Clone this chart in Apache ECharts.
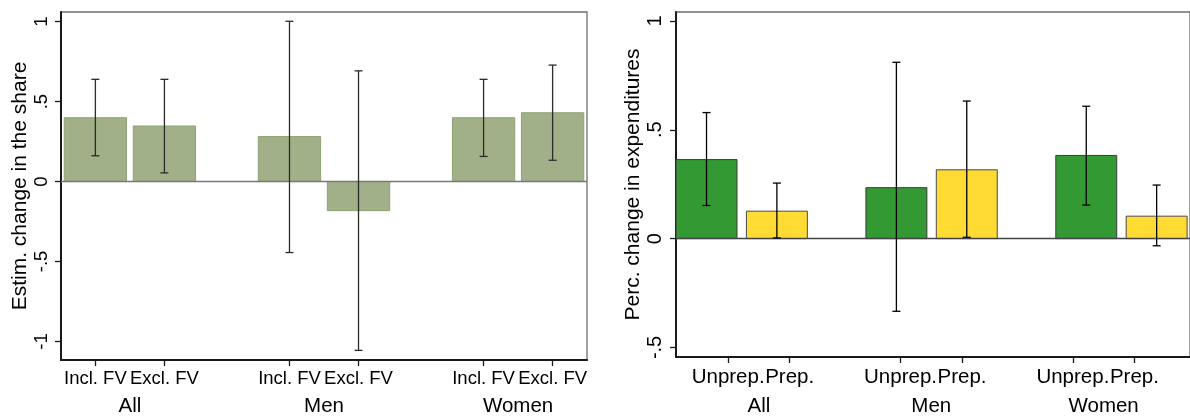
<!DOCTYPE html>
<html>
<head>
<meta charset="utf-8">
<script src="https://cdn.jsdelivr.net/npm/echarts@6/dist/echarts.min.js"></script>
<style>
  html, body { margin: 0; padding: 0; background: #fff; }
  #chart { width: 1190px; height: 417px; }
</style>
</head>
<body>
<div id="chart"></div>
<script>
	// categories
	const GROUPS = ["All", "Men", "Women"];
	const SHARE_LABELS = ["Incl. FV", "Excl. FV"];
	const EXP_LABELS = ["Unprep.", "Prep."];

	// left panel: estimated change in the share (point, lower, upper)
	const shareIncl = [0.399, 0.281, 0.399];
	const shareInclLow = [0.161, -0.444, 0.157];
	const shareInclHigh = [0.639, 1.002, 0.639];
	const shareExcl = [0.347, -0.182, 0.430];
	const shareExclLow = [0.054, -1.056, 0.133];
	const shareExclHigh = [0.639, 0.692, 0.728];

	// right panel: percentage change in expenditures
	const expUnprep = [0.363, 0.234, 0.382];
	const expUnprepLow = [0.152, -0.334, 0.154];
	const expUnprepHigh = [0.579, 0.810, 0.608];
	const expPrep = [0.126, 0.316, 0.103];
	const expPrepLow = [0.003, 0.006, -0.033];
	const expPrepHigh = [0.255, 0.632, 0.246];

	// tick labels
	const yTicksShare = [-1, -0.5, 0, 0.5, 1];
	const yTicksExp = [-0.5, 0, 0.5, 1];

	const FONT = "'Liberation Sans', Arial, Helvetica, sans-serif";

	// layout, in group units (group centres are 0, 1, 2)
	const LEFT_STEP = 0.3557;
	const RIGHT_BAR_STEP = 0.3706;
	const RIGHT_TICK_STEP = 0.357;
	const BAR_W = 0.321;

	function pos(g, j, step) {
		return g + (j - 0.5) * step;
	}

	function stataNum(v) {
		if (v === 0) return "0";
		return String(v).replace("0.", ".");
	}

	function barData(values, j, step) {
		return values.map((v, g) => [pos(g, j, step), v]);
	}

	function errData(low, high, j, step) {
		return low.map((lo, g) => [pos(g, j, step), lo, high[g]]);
	}

	function renderBar(params, api) {
		const x = api.value(0);
		const v = api.value(1);
		const p0 = api.coord([x - BAR_W / 2, 0]);
		const p1 = api.coord([x + BAR_W / 2, v]);
		return {
			type: "rect",
			shape: {
				x: p0[0],
				y: Math.min(p0[1], p1[1]),
				width: p1[0] - p0[0],
				height: Math.abs(p1[1] - p0[1]),
			},
			style: api.style(),
		};
	}

	function renderErr(params, api) {
		const x = api.value(0);
		const lo = api.coord([x, api.value(1)]);
		const hi = api.coord([x, api.value(2)]);
		const cap = 4;
		const style = { stroke: api.visual("color"), lineWidth: 1.3 };
		return {
			type: "group",
			children: [
				{ type: "line", shape: { x1: lo[0], y1: lo[1], x2: hi[0], y2: hi[1] }, style },
				{ type: "line", shape: { x1: lo[0] - cap, y1: lo[1], x2: lo[0] + cap, y2: lo[1] }, style },
				{ type: "line", shape: { x1: hi[0] - cap, y1: hi[1], x2: hi[0] + cap, y2: hi[1] }, style },
			],
		};
	}

	function barSeries(xi, yi, data, fill, border, zeroColor) {
		const s = {
			type: "custom",
			xAxisIndex: xi,
			yAxisIndex: yi,
			renderItem: renderBar,
			itemStyle: { color: fill, borderColor: border, borderWidth: 1 },
			data: data,
			z: 2,
			silent: true,
		};
		if (zeroColor) {
			s.markLine = {
				silent: true,
				symbol: "none",
				label: { show: false },
				lineStyle: { color: zeroColor, width: 1.3, type: "solid" },
				data: [{ yAxis: 0 }],
				z: 3,
			};
		}
		return s;
	}

	function errSeries(xi, yi, data, color) {
		return {
			type: "custom",
			xAxisIndex: xi,
			yAxisIndex: yi,
			renderItem: renderErr,
			itemStyle: { color: color },
			data: data,
			z: 5,
			silent: true,
		};
	}

	const leftTicks = [];
	const leftTickNames = {};
	const rightTicks = [];
	const rightTickNames = {};
	GROUPS.forEach((g, gi) => {
		[0, 1].forEach((j) => {
			const a = pos(gi, j, LEFT_STEP);
			leftTicks.push(a);
			leftTickNames[a.toFixed(4)] = SHARE_LABELS[j];
			const b = pos(gi, j, RIGHT_TICK_STEP);
			rightTicks.push(b);
			rightTickNames[b.toFixed(4)] = EXP_LABELS[j];
		});
	});

	const darkLine = { show: true, onZero: false, lineStyle: { color: "#1a1a1a", width: 2 } };

	function tickAxis(gridIndex, min, max, ticks, names, fontSize, margin) {
		return {
			type: "value",
			gridIndex: gridIndex,
			position: "bottom",
			min: min,
			max: max,
			axisLine: darkLine,
			splitLine: { show: false },
			axisTick: {
				show: true,
				length: 6,
				customValues: ticks,
				lineStyle: { color: "#1a1a1a", width: 1.3 },
			},
			axisLabel: {
				customValues: ticks,
				margin: margin,
				color: "#000",
				fontFamily: FONT,
				fontSize: fontSize,
				formatter: (v) => names[v.toFixed(4)] || "",
			},
		};
	}

	function groupAxis(gridIndex, min, max, offset, margin) {
		return {
			type: "value",
			gridIndex: gridIndex,
			position: "bottom",
			offset: offset,
			min: min,
			max: max,
			axisLine: { show: false, onZero: false },
			axisTick: { show: false },
			splitLine: { show: false },
			axisLabel: {
				customValues: [0, 1, 2],
				margin: margin,
				color: "#000",
				fontFamily: FONT,
				fontSize: 20.5,
				formatter: (v) => GROUPS[Math.round(v)],
			},
		};
	}

	function valueAxis(gridIndex, min, max, ticks, name, fontSize, margin, nameGap) {
		return {
			type: "value",
			gridIndex: gridIndex,
			position: "left",
			min: min,
			max: max,
			name: name,
			nameLocation: "middle",
			nameGap: nameGap,
			nameTextStyle: { color: "#000", fontFamily: FONT, fontSize: 21 },
			axisLine: darkLine,
			splitLine: { show: false },
			axisTick: {
				show: true,
				length: 6,
				customValues: ticks,
				lineStyle: { color: "#1a1a1a", width: 1.3 },
			},
			axisLabel: {
				customValues: ticks,
				rotate: 90,
				margin: margin,
				color: "#000",
				fontFamily: FONT,
				fontSize: fontSize,
				formatter: stataNum,
			},
		};
	}

	const chart = echarts.init(document.getElementById("chart"), null, { renderer: "canvas" });

	chart.setOption({
		animation: false,
		backgroundColor: "#fff",
		grid: [
			{ left: 61, top: 12, width: 526, height: 351, show: true, borderColor: "#6e6e6e", borderWidth: 1.3, backgroundColor: "#fff" },
			{ left: 676, top: 12, width: 526, height: 347, show: true, borderColor: "#6e6e6e", borderWidth: 1.3, backgroundColor: "#fff" },
		],
		xAxis: [
			tickAxis(0, -0.355, 2.355, leftTicks, leftTickNames, 18.5, 9),
			groupAxis(0, -0.355, 2.355, 27, 9),
			{ type: "value", gridIndex: 1, position: "bottom", min: -0.346, max: 2.361, show: false, axisLine: { onZero: false } },
			tickAxis(1, -0.481, 2.501, rightTicks, rightTickNames, 20.5, 10),
			groupAxis(1, -0.481, 2.501, 29, 10),
		],
		yAxis: [
			valueAxis(0, -1.116, 1.06, yTicksShare, "Estim. change in the share", 18.5, 10, 30),
			valueAxis(1, -0.544, 1.041, yTicksExp, "Perc. change in expenditures", 20, 11, 32),
		],
		series: [
			barSeries(0, 0, barData(shareIncl, 0, LEFT_STEP), "#a1b088", "#8ea273", "#777777"),
			barSeries(0, 0, barData(shareExcl, 1, LEFT_STEP), "#a1b088", "#8ea273"),
			errSeries(0, 0, errData(shareInclLow, shareInclHigh, 0, LEFT_STEP), "#2b2b2b"),
			errSeries(0, 0, errData(shareExclLow, shareExclHigh, 1, LEFT_STEP), "#2b2b2b"),
			barSeries(2, 1, barData(expUnprep, 0, RIGHT_BAR_STEP), "#339933", "#3c3c3c", "#444444"),
			barSeries(2, 1, barData(expPrep, 1, RIGHT_BAR_STEP), "#ffdb33", "#4a4a4a"),
			errSeries(2, 1, errData(expUnprepLow, expUnprepHigh, 0, RIGHT_BAR_STEP), "#000000"),
			errSeries(2, 1, errData(expPrepLow, expPrepHigh, 1, RIGHT_BAR_STEP), "#000000"),
		],
	});
</script>
</body>
</html>
